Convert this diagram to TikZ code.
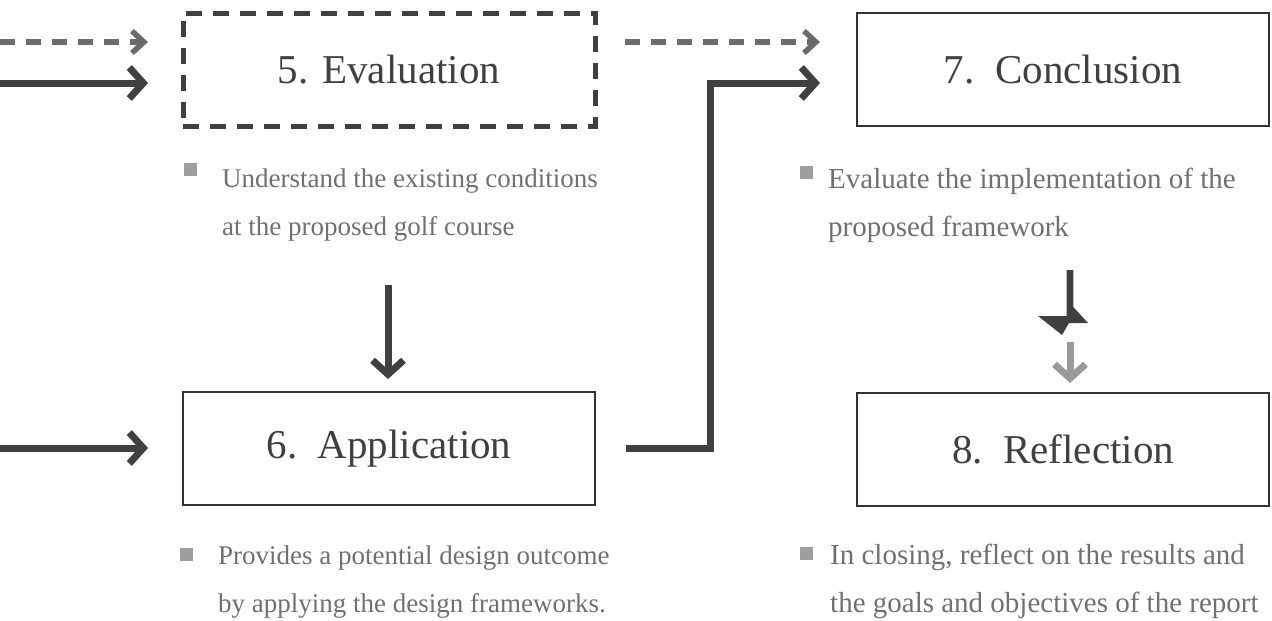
\documentclass[tikz,border=0pt]{standalone}
\usepackage{fontspec}
\setmainfont{Liberation Serif}
\usetikzlibrary{arrows.meta,positioning}
\definecolor{arrowc}{HTML}{404040}
\definecolor{dashc}{HTML}{6B6B6B}
\definecolor{boxc}{HTML}{333333}
\definecolor{titlec}{HTML}{404040}
\definecolor{notec}{HTML}{707070}
\definecolor{bulc}{HTML}{9D9DA2}
\definecolor{lightc}{HTML}{9A9A9A}

\begin{document}
\begin{tikzpicture}[x=1pt,y=-1pt,
    flow/.style={draw=arrowc,line width=7pt,-{Straight Barb[length=14pt,width=31pt,sharp]}},
    dflow/.style={draw=dashc,line width=5.5pt,dash pattern=on 15pt off 11pt,
                  -{Straight Barb[length=12pt,width=22pt,sharp]}},
    stage/.style={draw=boxc,line width=2.6pt,minimum width=412pt,minimum height=113pt,
                  outer sep=0pt,text=titlec,font=\fontsize{41}{48}\selectfont},
    bul/.style={fill=bulc,minimum size=13pt,inner sep=0pt},
    note/.style={align=left,inner sep=0pt,text=notec,font=\fontsize{27}{48}\selectfont},
    wide note/.style={note,font=\fontsize{29}{48}\selectfont}]

  \useasboundingbox (0,0) rectangle (1272,621);

  % the four stages
  \node[stage,draw=arrowc,line width=5pt,dash pattern=on 16pt off 11pt] (eval) at (389,69.5) {5. Evaluation};
  \node[stage,below=266pt of eval]  (app)   {6.~~Application};
  \node[stage,right=262pt of eval]  (concl) {7.~~Conclusion};
  \node[stage,below=267pt of concl] (refl)  {8.~~Reflection};

  % notes under each stage (base = last line)
  \node[bul] (b5) at (190,169.5) {};
  \node[note,anchor=base west] (n5) at (222,235)
       {Understand the existing conditions\\at the proposed golf course};
  \node[bul] (b6) at (186,554) {};
  \node[note,anchor=base west] (n6) at (218,612)
       {Provides a potential design outcome\\by applying the design frameworks.};
  \node[bul] (b7) at (806,172) {};
  \node[wide note,anchor=base west] (n7) at (828,236)
       {Evaluate the implementation of the\\proposed framework};
  \node[bul] (b8) at (806,553) {};
  \node[wide note,anchor=base west] (n8) at (830,612)
       {In closing, reflect on the results and\\the goals and objectives of the report};

  % incoming arrows from the left
  \coordinate (d1) at (0,42);
  \coordinate (s1) at (0,83);
  \coordinate (s2) at (0,448);
  \draw[dflow,shorten >=35pt] (d1) -- (eval.west |- d1);
  \draw[flow,shorten >=35pt] (s1) -- (eval.west |- s1);
  \draw[flow,shorten >=35pt] (s2) -- (app.west |- s2);

  % links between stages
  \draw[dflow,shorten <=30pt,shorten >=37pt] (eval.east |- d1) -- (concl.west |- d1);
  \draw[flow,shorten <=31pt,shorten >=37pt] (app.east) -- ++(115,0) |- (concl.west |- s1);
  \coordinate (v5) at (388,285);
  \draw[flow,shorten >=13pt] (v5) -- (v5 |- app.north);

  % broken link 7 -> 8
  \coordinate (bolt) at (1070,270);
  \fill[arrowc,shift={(bolt)}] (-3.3,0) -- (3.3,0) -- (3.3,37) -- (18,53) -- (-1,53)
       -- (-8,65) -- (-32,46) -- (-3.3,46) -- cycle;
  \coordinate (g7) at (1070,342);
  \draw[flow,draw=lightc,shorten >=10pt] (g7) -- (g7 |- refl.north);
\end{tikzpicture}
\end{document}
